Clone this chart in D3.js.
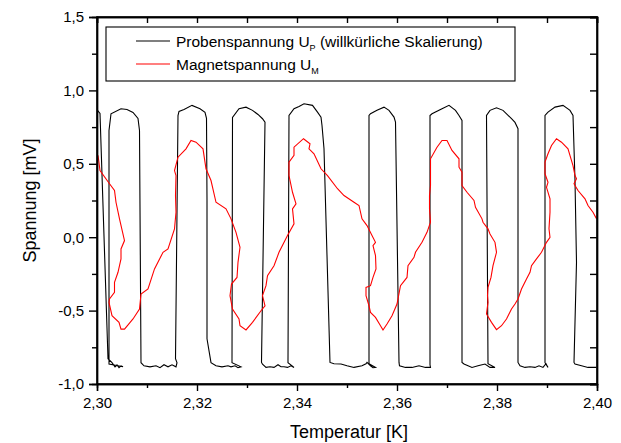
<!DOCTYPE html>
<html lang="de">
<head>
<meta charset="UTF-8">
<title>Proben- und Magnetspannung</title>
<script src="https://d3js.org/d3.v7.min.js"></script>
<style>
    body { margin: 0; background: #fff; }
    svg { display: block; font-family: "Liberation Sans", Arial, sans-serif; }
    .axis path, .axis line { stroke: #000; stroke-width: 1.4; }
    .axis text { font-size: 15px; fill: #000; }
</style>
</head>
<body>
<svg id="chart"></svg>
<script>
// Probenspannung (schwarz), willkürlich skaliert
const probeT = [2.3001,2.3006,2.3022,2.3030,2.3036,2.3040,2.3044,2.3048,2.3052,2.3024,
    2.3024,2.3028,2.3048,2.3060,2.3072,2.3082,2.3085,2.3088,
    2.3094,2.3106,2.3118,2.3126,2.3134,2.3142,2.3150,2.3158,2.3160,2.3157,
    2.3162,2.3164,2.3174,2.3190,2.3206,2.3216,2.3219,2.3220,2.3220,2.3228,2.3238,2.3250,2.3262,
    2.3268,2.3276,2.3282,2.3288,2.3270,
    2.3271,2.3284,2.3298,2.3311,2.3322,2.3331,2.3336,2.3329,
    2.3331,2.3338,2.3346,2.3354,2.3362,2.3368,2.3374,2.3381,2.3388,2.3394,2.3382,
    2.3384,2.3394,2.3404,2.3414,2.3431,2.3441,2.3448,2.3450,2.3454,2.3466,
    2.3474,2.3488,2.3500,2.3514,2.3530,2.3538,2.3540,2.3547,2.3552,2.3557,2.3544,
    2.3544,2.3547,2.3560,2.3574,2.3584,2.3594,2.3597,2.3604,
    2.3605,2.3617,2.3630,2.3644,2.3657,2.3667,2.3666,
    2.3666,2.3670,2.3690,2.3704,2.3717,2.3724,2.3730,2.3730,
    2.3734,2.3750,2.3762,2.3776,2.3786,2.3796,2.3782,
    2.3779,2.3786,2.3799,2.3812,2.3829,2.3836,2.3842,2.3842,
    2.3846,2.3856,2.3866,2.3876,2.3884,2.3892,2.3898,2.3902,2.3896,
    2.3896,2.3902,2.3916,2.3932,2.3946,2.3952,2.3956,2.3959,2.3954,
    2.3956,2.3969,2.3982,2.3999];
const probeU = [0.864,0.843,-0.828,-0.855,-0.883,-0.869,-0.889,-0.876,-0.883,-0.864,
    0.727,0.841,0.875,0.870,0.850,0.809,0.727,-0.855,
    -0.876,-0.883,-0.876,-0.889,-0.869,-0.883,-0.869,-0.883,-0.855,-0.828,
    0.829,0.857,0.870,0.898,0.875,0.850,0.809,0.250,-0.692,-0.855,-0.876,-0.883,-0.876,
    -0.883,-0.876,-0.889,-0.883,-0.855,
    0.816,0.875,0.886,0.864,0.836,0.807,0.784,-0.853,
    -0.864,-0.887,-0.883,-0.887,-0.869,-0.883,-0.883,-0.887,-0.876,-0.887,-0.855,
    0.829,0.875,0.891,0.909,0.898,0.852,0.818,0.761,0.602,-0.853,
    -0.862,-0.864,-0.876,-0.887,-0.876,-0.862,-0.853,-0.876,-0.889,-0.887,-0.862,
    0.829,0.841,0.864,0.886,0.864,0.818,0.784,-0.853,
    -0.876,-0.887,-0.887,-0.876,-0.887,-0.887,-0.869,
    0.829,0.841,0.875,0.898,0.864,0.829,0.795,-0.853,
    -0.864,-0.887,-0.876,-0.864,-0.887,-0.887,-0.862,
    0.829,0.864,0.882,0.864,0.807,0.782,0.739,-0.853,
    -0.876,-0.887,-0.883,-0.887,-0.876,-0.887,-0.862,-0.887,-0.855,
    0.829,0.852,0.886,0.898,0.864,0.829,0.386,-0.171,-0.853,
    -0.864,-0.876,-0.887,-0.887];

// Magnetspannung (rot)
const magnetT = [2.3002,2.3006,2.3025,2.3035,2.3038,2.3045,2.3055,2.3048,2.3048,2.3042,
    2.3035,2.3035,2.3025,2.3024,2.3030,2.3044,2.3048,2.3055,2.3072,2.3085,
    2.3088,2.3102,2.3115,2.3132,2.3142,2.3155,2.3158,2.3157,2.3158,2.3155,
    2.3162,2.3178,2.3188,2.3198,2.3212,2.3218,2.3228,2.3238,2.3258,2.3268,
    2.3278,2.3286,2.3282,2.3280,2.3269,2.3266,2.3271,2.3284,2.3286,2.3298,
    2.3311,2.3328,2.3336,2.3331,2.3338,2.3341,2.3354,2.3364,2.3381,2.3394,
    2.3391,2.3398,2.3391,2.3384,2.3384,2.3394,2.3394,2.3413,2.3426,2.3424,
    2.3434,2.3448,2.3461,2.3481,2.3494,2.3514,2.3524,2.3530,2.3540,2.3550,
    2.3557,2.3552,2.3557,2.3558,2.3552,2.3547,2.3538,2.3538,2.3544,2.3547,
    2.3557,2.3567,2.3572,2.3580,2.3590,2.3600,2.3607,2.3620,2.3622,2.3634,
    2.3637,2.3650,2.3660,2.3667,2.3665,2.3665,2.3667,2.3667,2.3680,2.3690,
    2.3700,2.3710,2.3724,2.3724,2.3730,2.3730,2.3740,2.3754,2.3757,2.3770,
    2.3772,2.3782,2.3786,2.3796,2.3799,2.3792,2.3788,2.3782,2.3781,2.3782,
    2.3779,2.3789,2.3799,2.3809,2.3819,2.3829,2.3836,2.3842,2.3849,2.3859,
    2.3866,2.3869,2.3879,2.3889,2.3899,2.3906,2.3904,2.3906,2.3906,2.3899,
    2.3902,2.3896,2.3896,2.3902,2.3909,2.3919,2.3929,2.3942,2.3952,2.3956,
    2.3959,2.3954,2.3962,2.3976,2.3982,2.3992,2.3999];
const magnetU = [0.557,0.454,0.364,0.318,0.238,0.125,-0.023,-0.080,-0.148,-0.239,
    -0.308,-0.376,-0.421,-0.444,-0.535,-0.580,-0.626,-0.626,-0.557,-0.489,
    -0.387,-0.353,-0.216,-0.103,-0.080,0.057,0.170,0.284,0.420,0.454,
    0.545,0.602,0.659,0.647,0.602,0.466,0.386,0.238,0.193,0.125,
    0.033,-0.069,-0.171,-0.274,-0.319,-0.398,-0.489,-0.557,-0.603,-0.632,
    -0.580,-0.501,-0.467,-0.398,-0.330,-0.262,-0.194,-0.103,0.011,0.091,
    0.193,0.227,0.306,0.420,0.511,0.557,0.613,0.671,0.636,0.602,
    0.568,0.466,0.420,0.330,0.284,0.238,0.216,0.125,0.079,0.011,
    -0.035,-0.057,-0.126,-0.216,-0.274,-0.330,-0.342,-0.398,-0.467,-0.512,
    -0.546,-0.603,-0.632,-0.591,-0.535,-0.455,-0.330,-0.274,-0.194,-0.137,
    -0.103,-0.035,0.033,0.102,0.193,0.284,0.352,0.534,0.613,0.659,
    0.659,0.591,0.534,0.477,0.443,0.352,0.306,0.250,0.204,0.125,
    0.102,0.057,0.022,-0.035,-0.103,-0.194,-0.274,-0.342,-0.398,-0.444,
    -0.523,-0.580,-0.630,-0.603,-0.557,-0.489,-0.455,-0.421,-0.353,-0.284,
    -0.239,-0.194,-0.148,-0.103,-0.035,-0.001,0.057,0.170,0.261,0.340,
    0.374,0.432,0.511,0.568,0.625,0.671,0.647,0.602,0.488,0.420,
    0.398,0.364,0.318,0.261,0.216,0.170,0.125];

const tempTicks = [2.30, 2.32, 2.34, 2.36, 2.38, 2.40];
const tempMinor = [2.31, 2.33, 2.35, 2.37, 2.39];
const voltTicks = [-1.0, -0.5, 0.0, 0.5, 1.0, 1.5];
const voltMinor = [-0.75, -0.25, 0.25, 0.75, 1.25];

const width = 621, height = 443;
const margin = { top: 17, right: 24, bottom: 59, left: 97 };

const svg = d3.select("#chart").attr("width", width).attr("height", height);

const x = d3.scaleLinear().domain([2.30, 2.40]).range([margin.left, width - margin.right]);
const y = d3.scaleLinear().domain([-1.0, 1.5]).range([height - margin.bottom, margin.top]);

const de = d3.formatLocale({ decimal: ",", thousands: ".", grouping: [3], currency: ["", " €"], minus: "-" });
const fmtT = de.format(".2f"), fmtU = de.format(".1f");

svg.append("clipPath").attr("id", "plot")
    .append("rect")
    .attr("x", margin.left).attr("y", margin.top)
    .attr("width", width - margin.left - margin.right)
    .attr("height", height - margin.top - margin.bottom);

const line = d3.line().x(d => x(d[0])).y(d => y(d[1]));
const probe = probeT.map((t, i) => [t, probeU[i]]);
const magnet = magnetT.map((t, i) => [t, magnetU[i]]);

const plot = svg.append("g").attr("clip-path", "url(#plot)");
plot.append("path").datum(probe)
    .attr("fill", "none").attr("stroke", "#000").attr("stroke-width", 1.1)
    .attr("d", line);
plot.append("path").datum(magnet)
    .attr("fill", "none").attr("stroke", "#ff0000").attr("stroke-width", 1.1)
    .attr("d", line);

// axes: bottom/left with labels, ticks outside; top/right mirrored, ticks inside
const yB = height - margin.bottom, yT = margin.top;
const xL = margin.left, xR = width - margin.right;

const addAxis = (axis, tx, ty) => svg.append("g").attr("class", "axis")
    .attr("transform", `translate(${tx},${ty})`).call(axis);

addAxis(d3.axisBottom(x).tickValues(tempTicks).tickFormat(fmtT).tickSizeOuter(0).tickSize(7).tickPadding(6), 0, yB);
addAxis(d3.axisBottom(x).tickValues(tempMinor).tickFormat("").tickSizeOuter(0).tickSize(4), 0, yB);
addAxis(d3.axisLeft(y).tickValues(voltTicks).tickFormat(fmtU).tickSizeOuter(0).tickSize(8).tickPadding(5), xL, 0);
addAxis(d3.axisLeft(y).tickValues(voltMinor).tickFormat("").tickSizeOuter(0).tickSize(5), xL, 0);
addAxis(d3.axisTop(x).tickValues(tempTicks).tickFormat("").tickSizeOuter(0).tickSize(-6), 0, yT);
addAxis(d3.axisTop(x).tickValues(tempMinor).tickFormat("").tickSizeOuter(0).tickSize(-6), 0, yT);
addAxis(d3.axisRight(y).tickValues(voltTicks).tickFormat("").tickSizeOuter(0).tickSize(-7), xR, 0);
addAxis(d3.axisRight(y).tickValues(voltMinor).tickFormat("").tickSizeOuter(0).tickSize(-7), xR, 0);

svg.append("rect")
    .attr("x", xL).attr("y", yT).attr("width", xR - xL).attr("height", yB - yT)
    .attr("fill", "none").attr("stroke", "#000").attr("stroke-width", 1.6);

// axis titles
svg.append("text")
    .attr("x", (xL + xR) / 2 + 2).attr("y", 438)
    .attr("text-anchor", "middle").style("font-size", "18px")
    .text("Temperatur [K]");
svg.append("text")
    .attr("transform", `translate(36,${(yT + yB) / 2}) rotate(-90)`)
    .attr("text-anchor", "middle").style("font-size", "18px")
    .text("Spannung [mV]");

// legend
const legend = svg.append("g");
legend.append("rect")
    .attr("x", 106).attr("y", 27).attr("width", 409).attr("height", 54)
    .attr("fill", "#fff").attr("stroke", "#000").attr("stroke-width", 1.1);
const entries = [
    { label: "Probenspannung U", sub: "P", rest: " (willkürliche Skalierung)", color: "#000", y: 41 },
    { label: "Magnetspannung U", sub: "M", rest: "", color: "#ff0000", y: 64 }
];
entries.forEach(e => {
    legend.append("line")
        .attr("x1", 136).attr("x2", 170).attr("y1", e.y).attr("y2", e.y)
        .attr("stroke", e.color).attr("stroke-width", 1.1);
    const t = legend.append("text")
        .attr("x", 176).attr("y", e.y + 5.5).style("font-size", "15.5px");
    t.append("tspan").text(e.label);
    t.append("tspan").attr("dy", 4).style("font-size", "9px").text(e.sub);
    t.append("tspan").attr("dy", -4).text(e.rest);
});
</script>
</body>
</html>
